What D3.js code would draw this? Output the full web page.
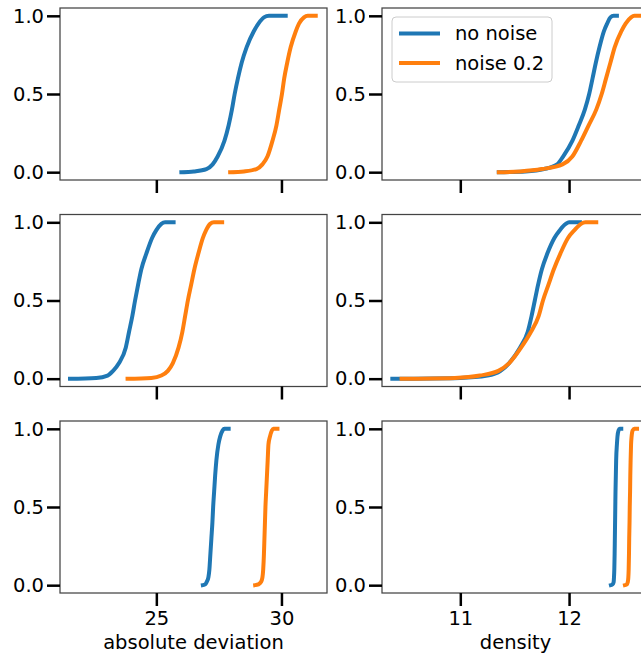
<!DOCTYPE html>
<meta charset="utf-8">
<style>
  body { margin: 0; background: #fff; }
  text { font-family: "DejaVu Sans", sans-serif; fill: #000; }
  .spine { fill: none; stroke: #444; stroke-width: 1.25; }
  .tick line { stroke: #000; stroke-width: 2.5; }
  .domain { display: none; }
</style>
<body>
<div id="chart"></div>
<script src="https://d3js.org/d3.v7.min.js"></script>
<script>

  var levels = [0, 0.005, 0.02, 0.05, 0.1, 0.2, 0.3, 0.4, 0.5, 0.6, 0.7, 0.8, 0.9, 0.95, 0.99, 1, 1];

  var series_names = ["no noise", "noise 0.2"];
  var colors = ["#1f77b4", "#ff7f0e"];

  // absolute deviation, rows 1-3
  var absdev_r1_clean = [26.0, 26.5, 27.0, 27.25, 27.45, 27.72, 27.89, 28.02, 28.13, 28.26, 28.41, 28.61, 28.89, 29.08, 29.3, 29.5, 30.17];
  var absdev_r1_noise = [27.95, 28.5, 29.0, 29.24, 29.44, 29.64, 29.8, 29.91, 30.02, 30.11, 30.23, 30.37, 30.57, 30.7, 30.9, 31.05, 31.37];
  var absdev_r2_clean = [21.55, 22.6, 23.05, 23.27, 23.51, 23.78, 23.91, 24.04, 24.15, 24.27, 24.4, 24.6, 24.83, 25.0, 25.2, 25.35, 25.69];
  var absdev_r2_noise = [23.85, 24.8, 25.2, 25.46, 25.66, 25.89, 26.04, 26.15, 26.26, 26.39, 26.52, 26.68, 26.86, 26.99, 27.15, 27.3, 27.63];
  var absdev_r3_clean = [26.86, 26.95, 27.01, 27.08, 27.12, 27.16, 27.2, 27.24, 27.27, 27.31, 27.35, 27.4, 27.48, 27.55, 27.65, 27.72, 27.89];
  var absdev_r3_noise = [28.95, 29.08, 29.18, 29.24, 29.27, 29.3, 29.32, 29.34, 29.36, 29.39, 29.42, 29.45, 29.48, 29.54, 29.62, 29.68, 29.84];

  // density, rows 1-3
  var dens_r1_clean = [11.354, 11.6, 11.77, 11.89, 11.945, 12.03, 12.09, 12.145, 12.185, 12.216, 12.246, 12.28, 12.32, 12.35, 12.38, 12.41, 12.44];
  var dens_r1_noise = [11.354, 11.55, 11.75, 11.94, 12.03, 12.11, 12.18, 12.25, 12.30, 12.34, 12.38, 12.42, 12.48, 12.52, 12.57, 12.6, 12.66];
  var dens_r2_clean = [10.375, 11.0, 11.25, 11.37, 11.45, 11.55, 11.62, 11.655, 11.685, 11.715, 11.75, 11.80, 11.865, 11.915, 11.97, 12.0, 12.10];
  var dens_r2_noise = [10.46, 10.95, 11.18, 11.35, 11.45, 11.56, 11.65, 11.72, 11.76, 11.81, 11.86, 11.92, 11.99, 12.05, 12.11, 12.15, 12.25];
  var dens_r3_clean = [12.385, 12.40, 12.41, 12.413, 12.416, 12.419, 12.421, 12.423, 12.425, 12.427, 12.43, 12.433, 12.44, 12.445, 12.455, 12.465, 12.48];
  var dens_r3_noise = [12.514, 12.53, 12.54, 12.545, 12.548, 12.551, 12.553, 12.556, 12.558, 12.561, 12.563, 12.566, 12.57, 12.575, 12.585, 12.6, 12.625];

  var absdev_ticks = [25, 30],
      dens_ticks = [11, 12],
      y_ticks = [0, 0.5, 1];

  var panels = [
    {row: 0, col: 0, data: [absdev_r1_clean, absdev_r1_noise]},
    {row: 0, col: 1, data: [dens_r1_clean, dens_r1_noise], legend: true},
    {row: 1, col: 0, data: [absdev_r2_clean, absdev_r2_noise]},
    {row: 1, col: 1, data: [dens_r2_clean, dens_r2_noise]},
    {row: 2, col: 0, data: [absdev_r3_clean, absdev_r3_noise]},
    {row: 2, col: 1, data: [dens_r3_clean, dens_r3_noise]}
  ];

  var svg_dx = 641, svg_dy = 655;
  var col_left = [60, 382], col_w = 267,
      row_top = [8, 214.5, 421], row_h = 172;

  var x_domains = [[21.15, 31.82], [10.28, 12.735]],
      x_ticks = [absdev_ticks, dens_ticks],
      x_labels = ["absolute deviation", "density"];

  var font_px = "19.5px";

  var svg = d3.select("#chart")
              .append("svg")
              .attr("width", svg_dx)
              .attr("height", svg_dy);

  panels.forEach(function (p) {

    var x0 = col_left[p.col], y0 = row_top[p.row];

    var x = d3.scaleLinear().domain(x_domains[p.col]).range([0, col_w]),
        y = d3.scaleLinear().domain([-0.05, 1.05]).range([row_h, 0]);

    var g = svg.append("g")
               .attr("transform", "translate(" + x0 + "," + y0 + ")");

    var line = d3.line()
                 .x(d => x(d[0]))
                 .y(d => y(d[1]))
                 .curve(d3.curveMonotoneX);

    p.data.forEach(function (vals, i) {
      var pts = vals.map((v, k) => [v, levels[k]]);
      g.append("path")
       .attr("d", line(pts))
       .attr("fill", "none")
       .attr("stroke", colors[i])
       .attr("stroke-width", 4)
       .attr("stroke-linejoin", "round")
       .attr("stroke-linecap", "square");
    });

    g.append("rect")
     .attr("class", "spine")
     .attr("width", col_w)
     .attr("height", row_h);

    var axis_y = d3.axisLeft(y)
                   .tickValues(y_ticks)
                   .tickFormat(d3.format(".1f"))
                   .tickSize(13)
                   .tickPadding(3);

    g.append("g")
     .call(axis_y)
     .selectAll("text")
     .style("font-size", font_px)
     .style("font-family", "DejaVu Sans");

    var axis_x = d3.axisBottom(x)
                   .tickValues(x_ticks[p.col])
                   .tickSize(13)
                   .tickPadding(5)
                   .tickFormat(p.row == 2 ? d3.format("d") : "");

    g.append("g")
     .attr("transform", "translate(0," + row_h + ")")
     .call(axis_x)
     .selectAll("text")
     .style("font-size", font_px)
     .style("font-family", "DejaVu Sans");

    if (p.row == 2) {
      g.append("text")
       .attr("x", col_w / 2)
       .attr("y", row_h + 56)
       .attr("text-anchor", "middle")
       .style("font-size", font_px)
       .text(x_labels[p.col]);
    }

    if (p.legend) {
      var lg = g.append("g").attr("transform", "translate(10,9)");
      lg.append("rect")
        .attr("width", 160)
        .attr("height", 65)
        .attr("rx", 4)
        .attr("fill", "#fff")
        .attr("fill-opacity", 0.8)
        .attr("stroke", "#ccc")
        .attr("stroke-width", 1);
      series_names.forEach(function (name, i) {
        var ly = 16.5 + i * 29.5;
        lg.append("line")
          .attr("x1", 7).attr("x2", 48)
          .attr("y1", ly).attr("y2", ly)
          .attr("stroke", colors[i])
          .attr("stroke-width", 4);
        lg.append("text")
          .attr("x", 63)
          .attr("y", ly)
          .attr("dy", "0.35em")
          .style("font-size", font_px)
          .text(name);
      });
    }
  });

</script>
</body>
